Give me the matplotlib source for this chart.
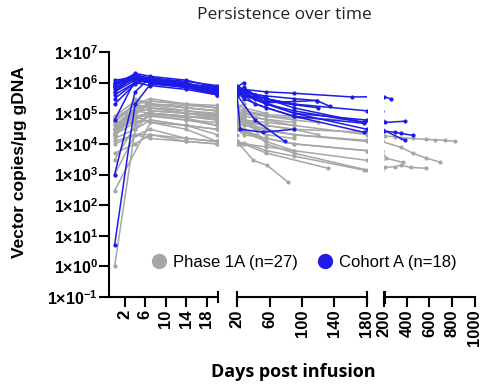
import numpy as np
import matplotlib
matplotlib.use("Agg")
import matplotlib.pyplot as plt
from matplotlib.lines import Line2D

plt.rcParams['font.family'] = ['Liberation Sans', 'DejaVu Sans']
plt.rcParams['mathtext.fontset'] = 'custom'
plt.rcParams['mathtext.rm'] = 'Liberation Sans'
plt.rcParams['mathtext.bf'] = 'Liberation Sans:bold'

# Phase 1A (gray), one list of days and one of values per subject
phase1a_days = [
    [0, 4, 7, 14, 20, 28, 56, 90, 180, 209, 296, 348, 452, 565, 652, 739, 826],
    [0, 4, 7, 14, 20, 42, 90, 180, 348, 452, 565, 696],
    [0, 7, 14, 20, 28, 56, 90, 180, 217, 365],
    [0, 4, 7, 14, 20, 40, 57, 83],
    [0, 7, 14, 20, 28, 56, 132],
    [0, 4, 7, 14, 20, 28, 56, 90, 176, 209, 296, 348, 435, 565],
    [0, 4, 7, 14, 20, 28, 56, 90, 180],
    [0, 4, 7, 14, 20, 28, 56, 90, 180],
    [0, 4, 7, 14, 20, 28, 56, 90, 180],
    [0, 4, 7, 14, 20, 28, 56, 90, 180],
    [0, 4, 7, 14, 20, 28, 56, 90, 180],
    [0, 4, 7, 14, 20, 28, 56, 90, 180],
    [0, 4, 7, 14, 20, 28, 56],
    [0, 4, 7, 14, 20, 28, 42, 90],
    [0, 4, 7, 14, 20, 28, 56, 90, 120],
    [0, 4, 7, 14, 20, 28, 56],
    [0, 4, 7, 14, 20, 28, 42, 56, 90],
    [0, 4, 7, 14, 20, 28, 56, 90],
    [0, 4, 7, 14, 20],
    [0, 4, 7, 14, 20, 28],
    [0, 4, 7, 14, 20, 28, 56, 90],
    [0, 4, 7, 14, 20, 28, 42],
    [0, 4, 7, 14, 20, 28, 56],
    [0, 4, 7, 14, 20, 24],
    [0, 4, 7, 14, 20, 28, 56, 90],
    [0, 4, 7, 14, 20],
    [0, 4, 7, 14, 20, 28, 56, 90, 120],
]
phase1a_vals = [
    [3e4, 1.5e5, 2e5, 1.5e5, 1.2e5, 1e5, 6e4, 4e4, 2e4, 1.8e4, 1.7e4, 1.6e4, 1.5e4, 1.4e4, 1.35e4, 1.3e4, 1.2e4],
    [1, 3e4, 1e5, 8e4, 6e4, 3e4, 2e4, 1.2e4, 7.7e3, 5e3, 3.5e3, 2.5e3],
    [3e2, 5e4, 4e4, 3e4, 2.5e4, 1.5e4, 1e4, 6e3, 3.4e3, 2.5e3],
    [2.2e4, 8e4, 5e4, 3e4, 1.2e4, 2.9e3, 2e3, 5.6e2],
    [1e4, 3e4, 1.5e4, 1.2e4, 1e4, 5e3, 1.6e3],
    [1e3, 2e4, 2e4, 1.2e4, 1e4, 1.1e4, 6e3, 4e3, 1.4e3, 1.7e3, 1.8e3, 2e3, 1.7e3, 1.6e3],
    [5e4, 2e5, 3e5, 2e5, 1.5e5, 1.2e5, 8e4, 7e4, 6e4],
    [3e4, 1e5, 1.5e5, 1e5, 8e4, 6e4, 4e4, 3e4, 2.4e4],
    [2e4, 5e4, 8e4, 6e4, 5e4, 4e4, 3e4, 2e4, 1.3e4],
    [1.5e4, 3e4, 6e4, 4e4, 3e4, 2e4, 1.5e4, 1e4, 6e3],
    [2e4, 8e4, 1e5, 7e4, 4e4, 2.5e4, 1.2e4, 6e3, 2.9e3],
    [4e4, 1e5, 2e5, 1.5e5, 1.2e5, 8e4, 1e4, 5e3, 1.4e3],
    [6e4, 2e5, 2.5e5, 2e5, 1.8e5, 1.5e5, 1e5],
    [2e4, 1.5e5, 1.8e5, 1.2e5, 1e5, 8e4, 7e4, 5e4],
    [8e4, 2.5e5, 2e5, 1.5e5, 1.2e5, 1e5, 8e4, 6e4, 5e4],
    [3e3, 4e4, 1e5, 8e4, 6e4, 5e4, 4e4],
    [2.5e4, 6e4, 1.2e5, 1e5, 9e4, 7e4, 3e4, 2e4, 1.5e4],
    [3e4, 1.2e5, 1e5, 8e4, 7e4, 6e4, 5e4, 4e4],
    [5e4, 2e5, 1.5e5, 1e5, 8e4],
    [2e4, 3e5, 2e5, 1.8e5, 1.5e5, 2e5],
    [5e3, 1e4, 2e4, 1.5e4, 1.2e4, 1e4, 8e3, 6e3],
    [3e4, 7e4, 9e4, 6e4, 4e4, 3e4, 2e4],
    [4e4, 1.5e5, 1.2e5, 1e5, 7e4, 5e4, 3e4],
    [1.2e4, 2e4, 1.5e4, 1.2e4, 1e4, 1e4],
    [2e4, 1e5, 2.5e5, 2e5, 1.5e5, 1.2e5, 9e4, 8e4],
    [4e4, 5e4, 6e4, 4e4, 2e4],
    [7e4, 1.8e5, 1.5e5, 1.2e5, 9e4, 6e4, 4e4, 3e4, 2e4],
]

# Cohort A (blue)
cohortA_days = [
    [0, 4, 7, 14, 20, 28, 56, 90, 162, 200, 265],
    [0, 4, 7, 14, 20, 28, 42, 90, 118, 134],
    [0, 4, 7, 14, 20, 28, 56, 90, 176, 209, 383],
    [0, 4, 7, 14, 20, 42, 90, 176, 200, 296, 348, 452],
    [0, 4, 7, 14, 20, 42, 79],
    [0, 4, 7, 14, 20, 28, 56, 90, 176],
    [0, 4, 7, 14, 20, 28, 56, 120],
    [0, 4, 7, 14, 20, 28, 42, 90, 180, 383],
    [0, 4, 7, 14, 20, 28, 56, 90],
    [0, 4, 7, 14, 20, 28, 42],
    [0, 4, 7, 14, 20, 28, 56, 90, 176],
    [0, 4, 7, 14, 20, 28],
    [0, 4, 7, 14, 20, 24, 52, 90],
    [0, 4, 7, 14, 20, 28, 56, 90, 180],
    [0, 4, 7, 14, 20, 28, 56],
    [0, 4, 7, 14, 20, 28, 90, 180],
    [0, 4, 7, 14, 20, 28, 42],
    [0, 4, 7, 14, 20, 28, 56, 118],
]
cohortA_vals = [
    [8e5, 2e6, 1.6e6, 1.2e6, 7e5, 6e5, 5e5, 4.5e5, 3.4e5, 3.5e5, 2.9e5],
    [1e6, 1.8e6, 1.4e6, 1.1e6, 8e5, 6e5, 4e5, 3e5, 2.6e5, 1.7e5],
    [6e4, 1.2e6, 1e6, 8e5, 5e5, 4e5, 2e5, 1.2e5, 5e4, 5e4, 5.5e4],
    [1e3, 5e5, 1.5e6, 9e5, 6e5, 2e5, 8e4, 2.4e4, 2.6e4, 2.4e4, 2.2e4, 1.9e4],
    [5, 2e5, 9e5, 7e5, 4e5, 6e4, 1.2e4],
    [7e5, 1.5e6, 1.2e6, 9e5, 6e5, 5e5, 3e5, 1.5e5, 5e4],
    [9e5, 1.3e6, 1.1e6, 8e5, 5e5, 4e5, 2.5e5, 1.5e5],
    [5e5, 1.6e6, 1.3e6, 9e5, 7e5, 5e5, 3e5, 1e5, 3e4, 1.3e4],
    [3e5, 1e6, 1.2e6, 8e5, 5e5, 4e5, 3e5, 2e5],
    [1.2e6, 1.5e6, 1.1e6, 7e5, 4.5e5, 7e5, 4e5],
    [2e5, 9e5, 1.4e6, 1e6, 5e5, 3e5, 1.5e5, 8e4, 4.7e4],
    [8e5, 1.7e6, 1.2e6, 9e5, 7e5, 1e6],
    [4e5, 1e6, 8e5, 6e5, 4e5, 3e4, 2.4e4, 3e4],
    [6e5, 1.4e6, 1e6, 7e5, 5e5, 4e5, 2e5, 1e5, 6e4],
    [1e6, 1.6e6, 1.3e6, 9e5, 6e5, 5e5, 3.5e5],
    [5e5, 1.2e6, 1e6, 7e5, 4e5, 4e5, 2e5, 1.2e5],
    [7e5, 1.3e6, 1e6, 8e5, 5.5e5, 5e5, 4e5],
    [9e5, 1.5e6, 1.1e6, 8e5, 6e5, 4e5, 2.2e5, 2.6e5],
]

gray = '#a6a6a6'
blue = '#1c1ce6'

panel_xlims = [(-1.1, 20.2), (20, 180), (200, 1000)]
panel_ticks = [[2, 6, 10, 14, 18], [20, 60, 100, 140, 180], [200, 400, 600, 800, 1000]]
panel_px = [(109, 218), (237, 367), (384, 475)]

yticks = [1e-1, 1e0, 1e1, 1e2, 1e3, 1e4, 1e5, 1e6, 1e7]
ytick_labels = [r'$\mathbf{1{\times}10^{%d}}$' % e for e in range(-1, 8)]

W, H = 483, 389
fig = plt.figure(figsize=(W / 100, H / 100), dpi=100)

axes = []
for i, (x0, x1) in enumerate(panel_px):
    ax = fig.add_axes([x0 / W, 1 - 297 / H, (x1 - x0) / W, 245 / H])
    for d, v in zip(phase1a_days, phase1a_vals):
        ax.plot(d, v, color=gray, lw=1.1, marker='o', ms=3, mew=0)
    for d, v in zip(cohortA_days, cohortA_vals):
        ax.plot(d, v, color=blue, lw=1.1, marker='o', ms=3, mew=0)
    ax.set_yscale('log')
    ax.set_ylim(1e-1, 1e7)
    ax.set_xlim(*panel_xlims[i])
    ax.set_xticks(panel_ticks[i])
    ax.set_xticklabels([str(t) for t in panel_ticks[i]], rotation=90,
                       fontsize=12, fontweight='bold')
    ax.spines['top'].set_visible(False)
    ax.spines['right'].set_visible(False)
    ax.spines['bottom'].set_linewidth(1.5)
    ax.tick_params(axis='x', direction='out', length=7, width=1.5, pad=2)
    ax.minorticks_off()
    if i == 0:
        ax.spines['left'].set_linewidth(1.5)
        ax.set_yticks(yticks)
        ax.set_yticklabels(ytick_labels, fontsize=11.5)
        ax.tick_params(axis='y', direction='out', length=7, width=1.5, pad=1)
    else:
        ax.spines['left'].set_visible(False)
        ax.set_yticks([])
    # break caps at the ends of each x-axis segment
    ends = {0: [1], 1: [0, 1], 2: [0]}[i]
    for e in ends:
        ax.plot([e, e], [-0.022, 0.022], transform=ax.transAxes, color='black',
                lw=2.2 if i == 2 else 1.5, clip_on=False)
    axes.append(ax)

fig.text(20 / W, 1 - 162 / H, 'Vector copies/\u00b5g gDNA', rotation=90,
         ha='center', va='center', fontsize=12.5, fontweight='bold')
fig.text(0.607, 0.044, 'Days post infusion', ha='center', va='center',
         fontsize=13, fontweight='bold', family=['Open Sans', 'DejaVu Sans'])
fig.text(0.588, 0.961, 'Persistence over time', ha='center', va='center',
         fontsize=12.5, family=['Open Sans', 'DejaVu Sans'], color='#222222')

handles = [Line2D([], [], ls='none', marker='o', ms=11, color=gray, mew=0),
           Line2D([], [], ls='none', marker='o', ms=11, color=blue, mew=0)]
fig.legend(handles, ['Phase 1A (n=27)', 'Cohort A (n=18)'], ncol=2,
           loc='center', bbox_to_anchor=(0.627, 0.326), frameon=False,
           fontsize=12, handletextpad=0.25, columnspacing=1.0, handlelength=1.2)

fig.savefig('out.png', dpi=100)
